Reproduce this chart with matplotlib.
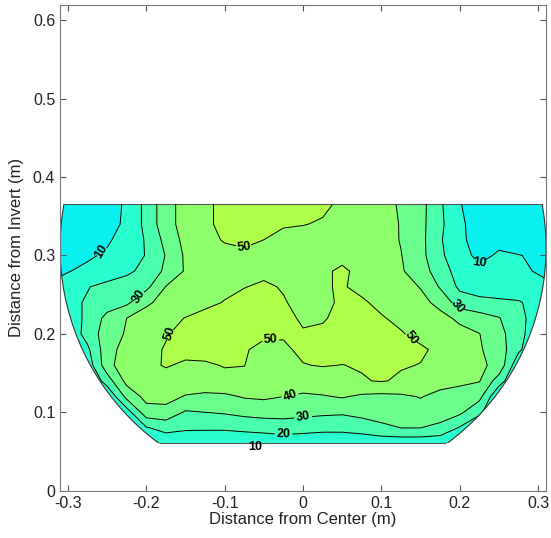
import numpy as np
import matplotlib
matplotlib.use("Agg")
import matplotlib.pyplot as plt
from matplotlib.patches import Circle, Rectangle

# ── Data: velocity field sampled on the pipe cross-section ───────────────────
x_pos = [-0.31, -0.275, -0.25, -0.225, -0.20, -0.175, -0.15, -0.125, -0.10,
         -0.075, -0.05, -0.025, 0.0, 0.025, 0.05, 0.075, 0.10, 0.125, 0.15,
         0.175, 0.20, 0.225, 0.25, 0.275, 0.31]
y_pos = [0.061, 0.08, 0.10, 0.12, 0.14, 0.16, 0.18, 0.20, 0.22, 0.24, 0.26,
         0.28, 0.30, 0.32, 0.34, 0.365]

# one row per y_pos (bottom to top), one value per x_pos
speed = [
    [10, 10, 10, 10, 10, 12, 12, 12, 12, 12, 12, 13, 12.5, 12, 12, 12.5, 13.5, 13.5, 13.5, 13, 10, 10, 10, 10, 10],
    [8, 8, 10, 12, 19, 24, 21.7, 21.5, 21.5, 22.8, 24.2, 25.5, 24.5, 23.2, 23.2, 25, 28, 30, 30, 27.4, 19, 12, 10, 8, 8],
    [8, 8, 10, 15, 36, 36, 29, 30, 31, 32.8, 33.6, 33.3, 32.6, 31.9, 31.3, 32.9, 34, 34.8, 36, 35, 32, 22, 10, 8, 8],
    [6, 8, 10, 33, 43, 44, 39.2, 38, 38, 40.8, 41.6, 40, 37.6, 39.2, 40.8, 38.4, 37.6, 38.4, 40.5, 37, 36, 33, 10, 8, 6],
    [5, 8, 25, 43, 46, 47.5, 47, 46, 48.5, 48.5, 45, 44, 48.5, 47, 47, 49.5, 50.5, 49, 46, 44, 42, 40.5, 25, 8, 5],
    [5, 14, 36, 47, 48.5, 50.5, 49, 49.3, 50.3, 50.1, 47, 47.5, 49.8, 50.3, 49.9, 50.5, 51, 50.5, 49.8, 47, 45, 42, 37, 12, 5],
    [5, 18, 36, 44, 48, 50.5, 52, 52, 51.5, 50.5, 48.5, 49.2, 51, 52, 52, 52.5, 52.5, 52, 51, 48.5, 45, 41, 35, 22, 5],
    [7, 24, 35, 41, 46, 49.5, 52, 53, 53, 52, 51, 50.5, 50.3, 51, 52.5, 53, 52, 50.5, 48, 45.5, 43, 40.2, 33, 24, 7],
    [12, 22, 33, 40, 45, 48, 50.2, 52, 53, 53, 52, 51, 49.5, 49.5, 51.5, 51.5, 50.5, 48.5, 46, 43, 38, 34, 30.5, 23, 12],
    [16, 21, 25, 28, 38, 44, 46.5, 48.5, 50.3, 52, 52, 50.5, 48, 48.5, 51, 50.8, 48.5, 46, 43, 37, 25, 23, 22, 21, 14],
    [12, 19.5, 23, 25, 27.5, 40.3, 45, 47.5, 48.5, 49.8, 51, 49.5, 47.5, 49.5, 50.5, 48.5, 46.5, 44, 39.5, 29, 18, 15, 14, 13, 11],
    [9, 11.5, 14, 18, 23, 32, 41, 44, 46, 47.5, 48.5, 47.5, 46.5, 48.5, 51.5, 47.5, 44.5, 41, 35, 24.5, 16, 12, 11.5, 11, 9],
    [7, 9, 11, 15, 20.5, 30.5, 41.5, 45, 47, 48.5, 48.5, 47.5, 46.5, 47, 47.5, 46.5, 44, 40.3, 33, 22, 13, 8, 11, 10.3, 8],
    [5, 7, 9, 13, 21, 33, 43, 47, 50.8, 51.5, 50, 48.5, 48, 47.5, 47, 46, 44, 39.5, 33, 21, 12, 6, 8, 5, 5],
    [4, 5, 8, 11, 23, 36, 44, 48.5, 52, 53, 52.5, 50.5, 50.2, 49.5, 48, 46, 43.5, 39.5, 33, 22, 12, 5, 4, 4, 4],
    [4, 5, 7, 11, 23, 36, 44, 48.5, 52, 54, 54, 53.5, 52.5, 51, 49, 46.5, 43, 39, 33.5, 21.5, 10.5, 5, 4, 4, 4],
]

levels = [0, 10, 20, 30, 40, 50, 60]
line_levels = [10, 20, 30, 40, 50]
PIPE_R = 0.31

x_ticks = [-0.3, -0.2, -0.1, 0, 0.1, 0.2, 0.3]
x_ticklabels = ["-0.3", "-0.2", "-0.1", "0", "0.1", "0.2", "0.3"]
y_ticks = [0, 0.1, 0.2, 0.3, 0.4, 0.5, 0.6]
y_ticklabels = ["0", "0.1", "0.2", "0.3", "0.4", "0.5", "0.6"]

# where the contour labels sit (nearest contour gets the label)
label_spots = [(-0.258, 0.305), (-0.205, 0.247), (-0.075, 0.31), (-0.17, 0.2),
               (-0.042, 0.194), (0.135, 0.194), (0.223, 0.289), (0.189, 0.232),
               (-0.017, 0.122), (0.001, 0.091), (-0.026, 0.068)]

# ── Plot ─────────────────────────────────────────────────────────────────────
plt.rcParams["font.family"] = ["Liberation Sans", "DejaVu Sans"]

fig = plt.figure(figsize=(5.51, 5.38), dpi=100)
ax = fig.add_axes([0.109, 0.088, 0.882, 0.9035])

X, Y = np.meshgrid(x_pos, y_pos)
Z = np.array(speed)

band_colors = [plt.cm.jet(t) for t in (0.36, 0.40, 0.44, 0.48, 0.52, 0.56)]
cf = ax.contourf(X, Y, Z, levels=levels, colors=band_colors)
cl = ax.contour(X, Y, Z, levels=line_levels, colors="k", linewidths=0.7)
labels = ax.clabel(cl, fmt="%d", fontsize=9, inline=True, inline_spacing=2,
                   manual=label_spots)
for t in labels:
    t.set_fontweight("bold")
ax.text(-0.061, 0.056, "10", fontsize=9, fontweight="bold", ha="center", va="center")

pipe = Circle((0, PIPE_R), PIPE_R, transform=ax.transData)
cf.set_clip_path(pipe)
cl.set_clip_path(pipe)

# outline of the measured section
extent = Rectangle((x_pos[0], y_pos[0]), x_pos[-1] - x_pos[0], y_pos[-1] - y_pos[0],
                   transform=ax.transData)
ring = Circle((0, PIPE_R), PIPE_R, fill=False, edgecolor="#333333", linewidth=0.8)
ax.add_patch(ring)
ring.set_clip_path(extent)
box = Rectangle((x_pos[0], y_pos[0]), x_pos[-1] - x_pos[0], y_pos[-1] - y_pos[0],
                fill=False, edgecolor="#555555", linewidth=0.8)
ax.add_patch(box)
box.set_clip_path(Circle((0, PIPE_R), PIPE_R, transform=ax.transData))

ax.set_xlim(-0.31, 0.31)
ax.set_ylim(0, 0.62)
ax.set_xticks(x_ticks)
ax.set_xticklabels(x_ticklabels)
ax.set_yticks(y_ticks)
ax.set_yticklabels(y_ticklabels)
ax.tick_params(direction="in", top=True, right=True, labelsize=11.5,
               color="#555555", labelcolor="#222222", length=4)
for s in ax.spines.values():
    s.set_color("#777777")
ax.set_xlabel("Distance from Center (m)", fontsize=12, color="#222222", labelpad=1)
ax.set_ylabel("Distance from Invert (m)", fontsize=12, color="#222222", labelpad=6)

fig.savefig("out.png", dpi=100)
